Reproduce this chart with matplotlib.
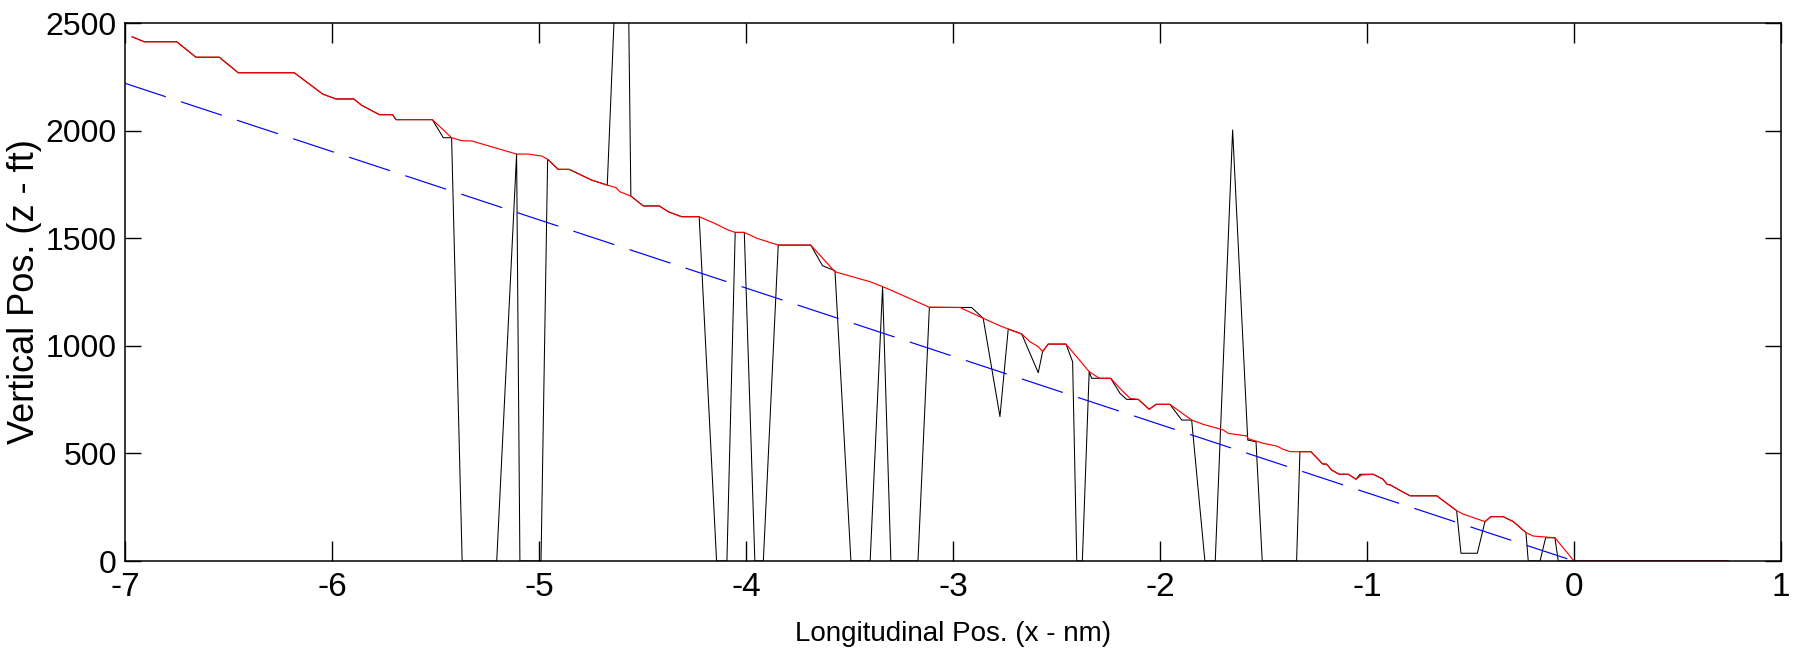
import matplotlib
matplotlib.use("Agg")
import matplotlib.pyplot as plt

plt.rcParams['font.family'] = ['Liberation Sans', 'DejaVu Sans']
plt.rcParams['axes.unicode_minus'] = False
plt.rcParams['lines.scale_dashes'] = False

# filtered altitude profile (red)
filt_x = [-6.965, -6.907, -6.750, -6.657, -6.544, -6.453, -6.182, -6.114, -6.045, -5.981,
          -5.894, -5.857, -5.771, -5.707, -5.691, -5.515, -5.422, -5.373, -5.325, -5.204,
          -5.108, -5.052, -4.987, -4.958, -4.907, -4.854, -4.745, -4.670, -4.628, -4.609,
          -4.556, -4.496, -4.419, -4.375, -4.311, -4.226, -4.158, -4.086, -4.052, -4.008,
          -3.948, -3.844, -3.687, -3.570, -3.401, -3.340, -3.301, -3.200, -3.114, -2.966,
          -2.854, -2.773, -2.733, -2.668, -2.628, -2.588, -2.567, -2.540, -2.454, -2.342,
          -2.293, -2.238, -2.193, -2.145, -2.105, -2.052, -2.019, -1.952, -1.847, -1.791,
          -1.694, -1.670, -1.581, -1.573, -1.501, -1.436, -1.404, -1.372, -1.271, -1.214,
          -1.195, -1.171, -1.134, -1.090, -1.053, -1.026, -0.970, -0.924, -0.902, -0.886,
          -0.844, -0.792, -0.663, -0.567, -0.535, -0.430, -0.402, -0.342, -0.293, -0.232,
          -0.197, -0.092, 0.0, 0.745]
filt_z = [2436, 2413, 2413, 2341, 2341, 2269, 2269, 2220, 2170, 2147,
          2147, 2118, 2074, 2074, 2051, 2051, 1967, 1953, 1952, 1918,
          1891, 1891, 1882, 1867, 1820, 1820, 1770, 1747, 1735, 1716,
          1696, 1650, 1650, 1623, 1600, 1600, 1572, 1538, 1527, 1527,
          1500, 1468, 1468, 1344, 1298, 1275, 1259, 1216, 1179, 1178,
          1128, 1093, 1078, 1055, 1019, 996, 973, 1008, 1008, 880,
          849, 849, 802, 756, 751, 705, 728, 728, 655, 635,
          609, 593, 581, 568, 547, 534, 519, 508, 508, 451,
          450, 423, 403, 403, 380, 400, 403, 381, 356, 353,
          330, 303, 303, 234, 218, 183, 206, 206, 183, 132,
          116, 108, 0, 0]

# raw altitude measurements (black), with dropouts and spikes
raw_x = [-6.965, -6.907, -6.750, -6.657, -6.544, -6.453, -6.182, -6.114, -6.045, -5.981,
         -5.894, -5.857, -5.771, -5.707, -5.691, -5.515, -5.462, -5.422, -5.371, -5.204,
         -5.108, -5.092, -4.990, -4.958, -4.907, -4.854, -4.745, -4.670, -4.582, -4.556,
         -4.496, -4.419, -4.375, -4.311, -4.226, -4.142, -4.092, -4.052, -4.008, -3.957,
         -3.916, -3.844, -3.687, -3.630, -3.570, -3.493, -3.400, -3.340, -3.300, -3.169,
         -3.114, -2.910, -2.854, -2.773, -2.733, -2.668, -2.588, -2.567, -2.540, -2.454,
         -2.422, -2.402, -2.375, -2.342, -2.330, -2.238, -2.193, -2.161, -2.105, -2.052,
         -2.019, -1.952, -1.895, -1.847, -1.783, -1.733, -1.649, -1.576, -1.536, -1.506,
         -1.340, -1.324, -1.271, -1.214, -1.195, -1.171, -1.134, -1.090, -1.053, -1.034,
         -0.970, -0.924, -0.902, -0.886, -0.844, -0.792, -0.663, -0.567, -0.546, -0.467,
         -0.430, -0.402, -0.342, -0.293, -0.232, -0.221, -0.164, -0.137, -0.092, -0.076,
         0.745]
raw_z = [2436, 2413, 2413, 2341, 2341, 2269, 2269, 2220, 2170, 2147,
         2147, 2118, 2074, 2074, 2051, 2051, 1967, 1967, 0, 0,
         1891, 0, 0, 1867, 1820, 1820, 1770, 1747, 3800, 1696,
         1650, 1650, 1623, 1600, 1600, 0, 0, 1527, 1527, 0,
         0, 1468, 1468, 1372, 1349, 0, 0, 1275, 0, 0,
         1179, 1178, 1128, 671, 1078, 1055, 875, 973, 1008, 1008,
         926, 0, 0, 880, 849, 849, 779, 751, 751, 705,
         728, 728, 655, 655, 0, 0, 2003, 562, 554, 0,
         0, 508, 508, 451, 450, 423, 403, 403, 380, 403,
         403, 381, 356, 353, 330, 303, 303, 234, 36, 36,
         183, 206, 206, 183, 132, 0, 0, 108, 108, 0,
         0]

# reference glide path (blue dashed)
path_x = [-7, 0]
path_z = [2220, 0]

fig = plt.figure(figsize=(17.95, 6.54), dpi=100)
ax = fig.add_axes([0.0696, 0.1422, 0.9226, 0.8226])

ax.plot(raw_x, raw_z, color='k', lw=0.75)
ax.plot(filt_x, filt_z, color='#ff0000', lw=0.85)
ax.plot(path_x, path_z, color='#0000ff', lw=0.85, dashes=(31, 11.5))

ax.set_xlim(-7, 1)
ax.set_ylim(0, 2500)
ax.set_xticks(range(-7, 2))
ax.set_yticks(range(0, 2501, 500))

ax.tick_params(axis='both', direction='in', top=True, right=True, labelsize=23, width=1)
ax.tick_params(axis='x', length=14.5, pad=8, labelsize=24)
ax.tick_params(axis='y', length=11.5, pad=6)
for s in ax.spines.values():
    s.set_linewidth(1.1)

ax.set_xlabel('Longitudinal Pos. (x - nm)', fontsize=20)
ax.set_ylabel('Vertical Pos. (z - ft)', fontsize=26)
ax.xaxis.set_label_coords(0.5, -0.112)
ax.yaxis.set_label_coords(-0.05, 0.5)

fig.savefig('out.png', dpi=100)
